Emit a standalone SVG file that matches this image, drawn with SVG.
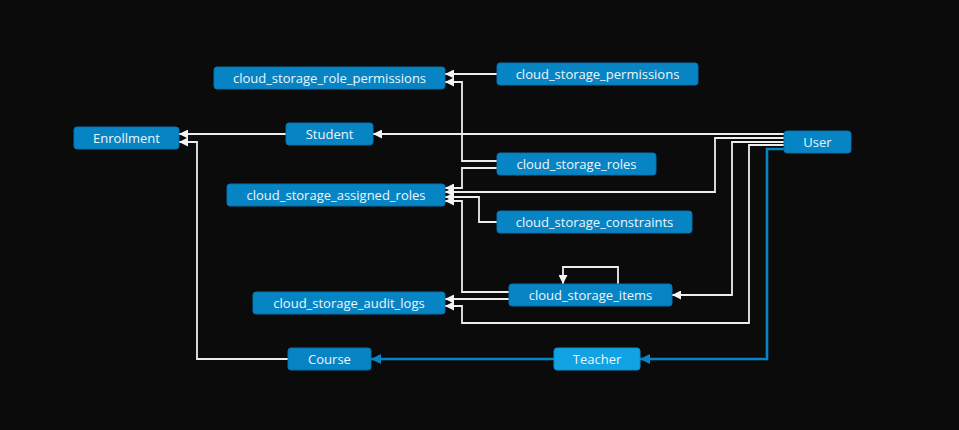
<svg xmlns="http://www.w3.org/2000/svg" width="959" height="430" viewBox="0 0 959 430">
<defs>
<style>
.n rect{fill:#0784c4;stroke:#0673ad;stroke-width:1}
.n.t rect{fill:#10a2e2;stroke:#0c90cb}
.n text{fill:#eef6fb;font-family:"Segoe UI","Open Sans","Noto Sans",sans-serif;font-size:13px;text-anchor:middle;dominant-baseline:central}
.e path{fill:none;stroke:#ededed;stroke-width:1.8;marker-end:url(#aw)}
.e path.b{stroke:#0784c4;stroke-width:2.6;marker-end:url(#ab)}
</style>
<marker id="aw" viewBox="0 0 10 10" refX="10" refY="5" markerWidth="9" markerHeight="9" markerUnits="userSpaceOnUse" orient="auto"><path d="M0,0 L10,5 L0,10 z" fill="#f4f4f4"/></marker>
<marker id="ab" viewBox="0 0 10 10" refX="10" refY="5" markerWidth="10" markerHeight="10" markerUnits="userSpaceOnUse" orient="auto"><path d="M0,0 L10,5 L0,10 z" fill="#0784c4"/></marker>
</defs>
<rect width="959" height="430" fill="#0b0b0b"/>
<g id="edges" class="e">
<path d="M497,74 H445"/>
<path d="M497,161 H462 V82 H445"/>
<path d="M784,134 H373"/>
<path d="M286,134 H179"/>
<path d="M288,359 H197 V142 H179"/>
<path d="M497,168 H462 V188 H445"/>
<path d="M784,138 H715 V192 H445"/>
<path d="M497,222 H479 V197 H445"/>
<path d="M509,292 H462 V201 H445"/>
<path d="M784,142 H732 V295 H672"/>
<path d="M618,284 V267 H563 V284"/>
<path d="M509,299 H445"/>
<path d="M784,145 H749 V323 H462 V306 H445"/>
<path class="b" d="M784,149 H767 V359 H640"/>
<path class="b" d="M554,359 H371"/>
</g>
<g id="cloud_storage_role_permissions" class="n"><rect x="214" y="67" width="231" height="22" rx="3"/><text x="329.5" y="78">cloud_storage_role_permissions</text></g>
<g id="cloud_storage_permissions" class="n"><rect x="497" y="63" width="201" height="22" rx="3"/><text x="597.5" y="74">cloud_storage_permissions</text></g>
<g id="Student" class="n"><rect x="286" y="123" width="87" height="22" rx="3"/><text x="329.5" y="134">Student</text></g>
<g id="Enrollment" class="n"><rect x="74" y="127" width="105" height="22" rx="3"/><text x="126.5" y="138">Enrollment</text></g>
<g id="User" class="n"><rect x="784" y="131" width="67" height="22" rx="3"/><text x="817.5" y="142">User</text></g>
<g id="cloud_storage_roles" class="n"><rect x="497" y="153" width="159" height="22" rx="3"/><text x="576.5" y="164">cloud_storage_roles</text></g>
<g id="cloud_storage_assigned_roles" class="n"><rect x="227" y="184" width="218" height="22" rx="3"/><text x="336" y="195">cloud_storage_assigned_roles</text></g>
<g id="cloud_storage_constraints" class="n"><rect x="497" y="211" width="195" height="22" rx="3"/><text x="594.5" y="222">cloud_storage_constraints</text></g>
<g id="cloud_storage_items" class="n"><rect x="509" y="284" width="163" height="22" rx="3"/><text x="590.5" y="295">cloud_storage_items</text></g>
<g id="cloud_storage_audit_logs" class="n"><rect x="253" y="292" width="192" height="22" rx="3"/><text x="349" y="303">cloud_storage_audit_logs</text></g>
<g id="Course" class="n"><rect x="288" y="348" width="83" height="22" rx="3"/><text x="329.5" y="359">Course</text></g>
<g id="Teacher" class="n t"><rect x="554" y="348" width="86" height="22" rx="3"/><text x="597" y="359">Teacher</text></g>
</svg>
